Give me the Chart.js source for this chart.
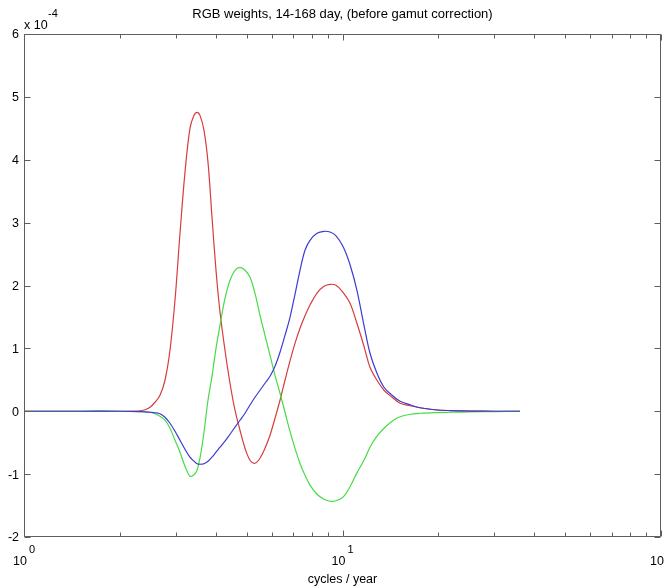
<!DOCTYPE html>
<html><head><meta charset="utf-8">
<script src="https://cdn.jsdelivr.net/npm/chart.js@4"></script>
<style>html,body{margin:0;padding:0;background:#fff}#wrap{width:666px;height:587px}</style>
</head><body><div id="wrap"><canvas id="c" width="666" height="587"></canvas></div>
<script>
// cycles / year
const freq = [1.000,1.499,2.001,2.314,2.399,2.487,2.578,2.673,2.771,2.873,
  2.979,3.089,3.202,3.320,3.418,3.493,3.569,3.674,3.782,3.893,
  4.007,4.125,4.276,4.434,4.597,4.766,4.942,5.124,5.312,5.508,
  5.710,5.921,6.139,6.365,6.599,6.842,7.093,7.355,7.625,7.906,
  8.317,8.748,9.136,9.541,10.04,10.56,11.10,11.68,12.20,12.83,
  13.50,14.31,15.16,16.29,17.51,19.52,21.76,25.14,30.11,36.08];
// weights, in units of 1e-4
const red = [0,0,0,0.005,0.024,0.064,0.143,0.254,0.493,0.970,
  1.765,2.830,3.800,4.499,4.706,4.754,4.706,4.467,3.959,3.084,
  2.242,1.574,0.970,0.445,0.016,-0.302,-0.588,-0.779,-0.827,-0.747,
  -0.588,-0.382,-0.111,0.175,0.493,0.800,1.080,1.320,1.520,1.690,
  1.880,1.987,2.019,2.003,1.892,1.717,1.399,1.033,0.700,0.493,
  0.334,0.223,0.127,0.087,0.056,0.024,0.011,0.003,0,0];
const green = [0,0,0,-0.005,-0.011,-0.016,-0.040,-0.079,-0.143,-0.270,
  -0.461,-0.652,-0.874,-1.033,-1.010,-0.938,-0.747,-0.334,0.175,0.556,
  1.001,1.367,1.796,2.083,2.242,2.289,2.242,2.130,1.876,1.526,
  1.208,0.890,0.572,0.286,-0.016,-0.320,-0.590,-0.830,-1.017,-1.176,
  -1.320,-1.399,-1.431,-1.423,-1.367,-1.200,-0.980,-0.779,-0.572,-0.397,
  -0.270,-0.159,-0.087,-0.048,-0.032,-0.021,-0.016,-0.011,-0.005,0];
const blue = [0,0,0,-0.005,-0.010,-0.016,-0.024,-0.040,-0.095,-0.191,
  -0.318,-0.461,-0.604,-0.731,-0.795,-0.835,-0.843,-0.835,-0.795,-0.731,
  -0.652,-0.572,-0.477,-0.366,-0.254,-0.143,-0.032,0.100,0.223,0.334,
  0.445,0.556,0.715,0.938,1.208,1.494,1.860,2.242,2.560,2.719,
  2.830,2.862,2.850,2.790,2.620,2.330,1.924,1.367,0.922,0.604,
  0.382,0.254,0.159,0.103,0.056,0.024,0.011,0.003,0,0];

const yTicks = [-2,-1,0,1,2,3,4,5,6];
const xMajor = [1,10,100];
const xMajorExp = ['0','1','2'];
const xMinor = [2,3,4,5,6,7,8,9,20,30,40,50,60,70,80,90];
const titleText = 'RGB weights, 14-168 day, (before gamut correction)';
const xTitle = 'cycles / year';
const multBase = 'x 10';
const multExp = '-4';

const FONT = '"Liberation Sans", Arial, Helvetica, sans-serif';
const axisColor = '#5e5e5e';

function pts(vals){ return freq.map((f,i)=>({x:f,y:vals[i]})); }

const axesPlugin = {
  id: 'matlabAxes',
  afterDatasetsDraw(chart){
    const {ctx, chartArea:a, scales:{x,y}} = chart;
    const L = Math.round(a.left)+0.5, R = Math.round(a.right)-0.5;
    const T = Math.round(a.top)+0.5, B = Math.round(a.bottom)-0.5;
    ctx.save();
    ctx.strokeStyle = axisColor; ctx.lineWidth = 1;
    ctx.beginPath();
    ctx.moveTo(L,T); ctx.lineTo(R,T); ctx.lineTo(R,B); ctx.lineTo(L,B); ctx.closePath();
    yTicks.forEach(v=>{
      const p = Math.round(y.getPixelForValue(v))+0.5;
      ctx.moveTo(L,p); ctx.lineTo(L+6,p);
      ctx.moveTo(R,p); ctx.lineTo(R-6,p);
    });
    xMajor.forEach(v=>{
      const p = Math.round(x.getPixelForValue(v))+0.5;
      ctx.moveTo(p,B); ctx.lineTo(p,B-6);
      ctx.moveTo(p,T); ctx.lineTo(p,T+6);
    });
    xMinor.forEach(v=>{
      const p = Math.round(x.getPixelForValue(v))+0.5;
      ctx.moveTo(p,B); ctx.lineTo(p,B-4);
      ctx.moveTo(p,T); ctx.lineTo(p,T+4);
    });
    ctx.stroke();

    ctx.fillStyle = '#000';
    ctx.font = '12.5px ' + FONT;
    ctx.textAlign = 'right'; ctx.textBaseline = 'middle';
    yTicks.forEach(v=>{
      ctx.fillText(String(v), a.left-5, y.getPixelForValue(v)+1);
    });
    ctx.textBaseline = 'alphabetic';
    xMajor.forEach((v,i)=>{
      const p = x.getPixelForValue(v);
      ctx.font = '12.5px ' + FONT; ctx.textAlign = 'right';
      ctx.fillText('10', p+3, 565);
      ctx.font = '11px ' + FONT; ctx.textAlign = 'left';
      ctx.fillText(xMajorExp[i], p+5, 553);
    });
    ctx.font = '12.5px ' + FONT; ctx.textAlign = 'left';
    ctx.fillText(multBase, a.left, 29);
    ctx.font = '11px ' + FONT;
    ctx.fillText(multExp, a.left+24, 17);
    ctx.textAlign = 'center';
    const cx = (a.left+a.right)/2;
    ctx.font = '13px ' + FONT;
    ctx.fillText(titleText, cx, 18);
    ctx.font = '12.5px ' + FONT;
    ctx.fillText(xTitle, cx, 583);
    ctx.restore();
  }
};

new Chart(document.getElementById('c'), {
  type: 'line',
  data: {
    datasets: [
      {label:'B', data: pts(blue), borderColor:'#3c3cd2'},
      {label:'G', data: pts(green), borderColor:'#46dc46'},
      {label:'R', data: pts(red), borderColor:'#d83c3c'}
    ].map(d=>Object.assign(d,{borderWidth:1.2,pointRadius:0,fill:false,tension:0.35}))
  },
  options: {
    responsive:false, animation:false, devicePixelRatio:1,
    layout:{padding:{left:24,right:5,top:34,bottom:50}},
    scales:{
      x:{type:'logarithmic',min:1,max:100,display:false},
      y:{type:'linear',min:-2,max:6,display:false}
    },
    plugins:{legend:{display:false},title:{display:false},tooltip:{enabled:false}}
  },
  plugins:[axesPlugin]
});
</script></body></html>
